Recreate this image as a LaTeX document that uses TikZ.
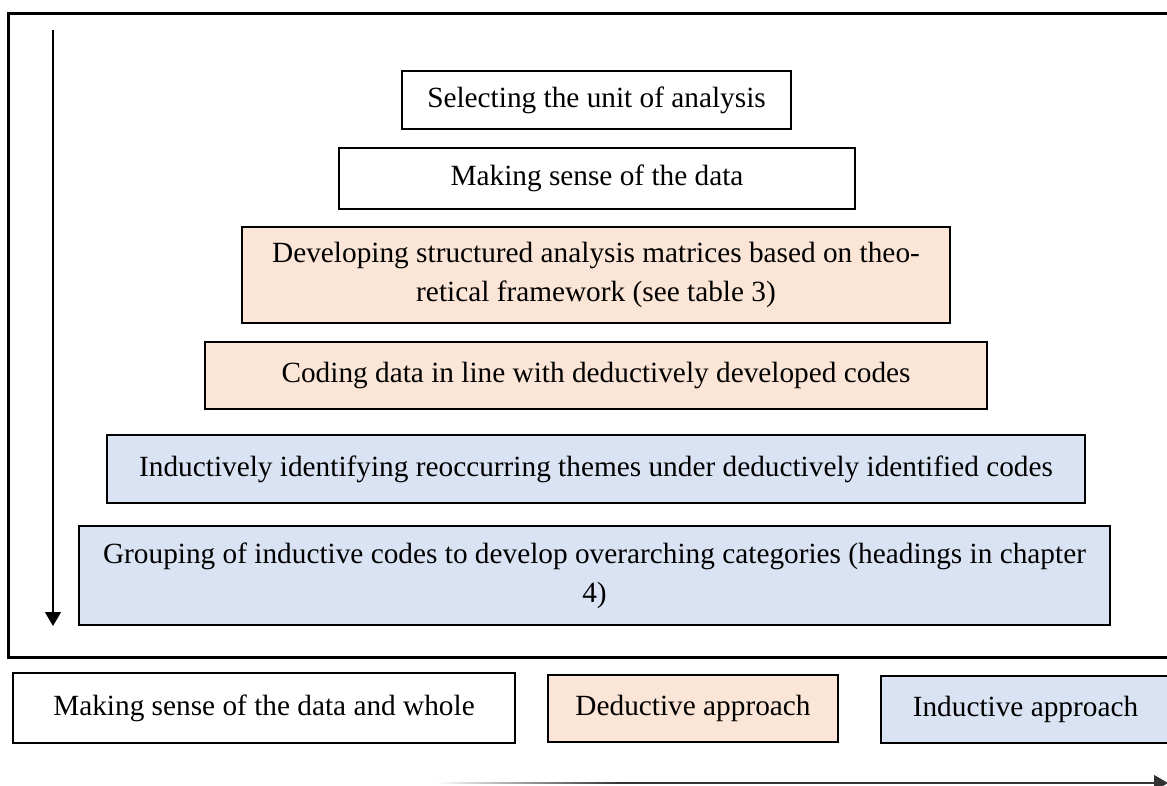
\documentclass[tikz,border=0pt]{standalone}
\usepackage{fontspec}
\setmainfont{Liberation Serif}
\usetikzlibrary{arrows.meta}
\definecolor{orangefill}{HTML}{FBE5D6}
\definecolor{bluefill}{HTML}{DAE3F3}
\begin{document}
\begin{tikzpicture}[x=1pt,y=-1pt,
  stepbox/.style={draw=black, line width=1.3pt, inner sep=0pt, align=center,
    font=\fontsize{29.3}{39}\selectfont},
  plainbox/.style={stepbox, fill=white},
  dedbox/.style={stepbox, fill=orangefill},
  indbox/.style={stepbox, fill=bluefill},
  flow/.style={line width=1.3pt, -{Triangle[length=14pt,width=16pt]}}]
\useasboundingbox (0,0) rectangle (1167,785);
\clip (0,0) rectangle (1167,785);
\draw[line width=3pt] (8,13) rectangle (1200,657);
\node[plainbox, minimum width=389pt, minimum height=58pt] (s1) at (596.5,100) {Selecting the unit of analysis};
\node[plainbox, minimum width=516pt, minimum height=61pt] (s2) at (597,178.5) {Making sense of the data};
\node[dedbox, minimum width=708pt, minimum height=96pt] (s3) at (596,275) {Developing structured analysis matrices based on theo-\\retical framework (see table 3)};
\node[dedbox, minimum width=782pt, minimum height=67pt] (s4) at (596,375.5) {Coding data in line with deductively developed codes};
\node[indbox, minimum width=978pt, minimum height=68pt] (s5) at (596,469) {Inductively identifying reoccurring themes under deductively identified codes};
\node[indbox, minimum width=1031pt, minimum height=99pt] (s6) at (594.5,575.5) {Grouping of inductive codes to develop overarching categories (headings in chapter\\4)};
\coordinate (va) at (53,30);
\coordinate (vb) at (53,626);
\draw[flow] (va) -- (vb);
\node[plainbox, minimum width=502pt, minimum height=70pt] (l1) at (264,708) {Making sense of the data and whole};
\node[dedbox, minimum width=290pt, minimum height=67pt] (l2) at (693,708.5) {Deductive approach};
\node[indbox, minimum width=289pt, minimum height=67pt] (l3) at (1025.5,709.5) {Inductive approach};
\coordinate (ha) at (435,783);
\coordinate (hb) at (1168,783);
\draw[flow, black!80] (ha) -- (hb);
\shade[left color=white, right color=black!80] (434,782.3) rectangle (620,783.7);
\end{tikzpicture}
\end{document}
